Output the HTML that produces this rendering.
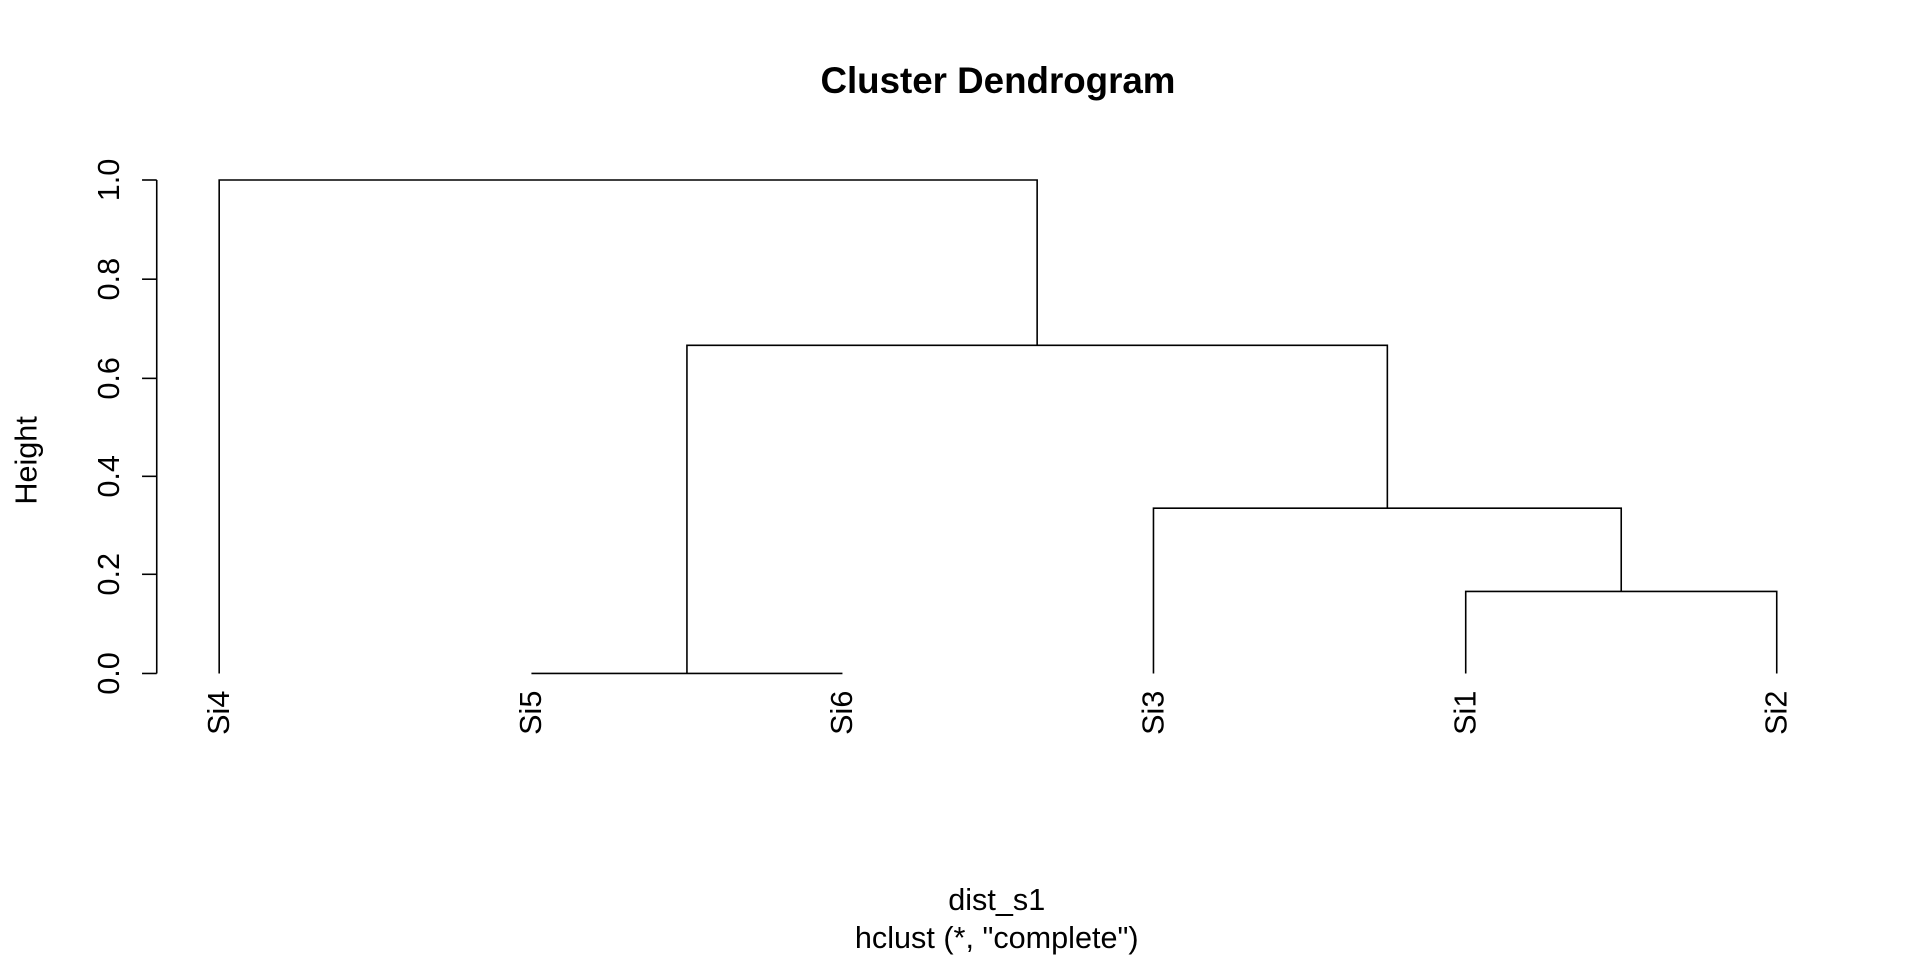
<!DOCTYPE html>
<html><head><meta charset="utf-8"><style>
html,body{margin:0;padding:0;background:#fff;}
svg{display:block;}
text{font-family:"Liberation Sans",Arial,sans-serif;fill:#000;}
</style></head><body>
<svg width="1920" height="960" viewBox="0 0 1568 784" xmlns="http://www.w3.org/2000/svg">
<rect width="1568" height="784" fill="#fff"/>
<text x="815" y="76" text-anchor="middle" font-size="30" font-weight="bold">Cluster Dendrogram</text>
<g stroke="#000" stroke-width="1.3" fill="none">
<line x1="128" y1="147" x2="128" y2="550"/>
<line x1="116" y1="147" x2="128" y2="147"/>
<line x1="116" y1="228" x2="128" y2="228"/>
<line x1="116" y1="309" x2="128" y2="309"/>
<line x1="116" y1="389" x2="128" y2="389"/>
<line x1="116" y1="469" x2="128" y2="469"/>
<line x1="116" y1="550" x2="128" y2="550"/>
<polyline points="179,550 179,147 847,147 847,282"/>
<polyline points="561,550 561,282 1133,282 1133,415"/>
<line x1="434" y1="550" x2="688" y2="550"/>
<polyline points="942,550 942,415 1324,415 1324,483"/>
<polyline points="1197,550 1197,483 1451,483 1451,550"/>
</g>
<g font-size="25" text-anchor="middle">
<text transform="translate(97,147) rotate(-90)">1.0</text>
<text transform="translate(97,228) rotate(-90)">0.8</text>
<text transform="translate(97,309) rotate(-90)">0.6</text>
<text transform="translate(97,389) rotate(-90)">0.4</text>
<text transform="translate(97,469) rotate(-90)">0.2</text>
<text transform="translate(97,550) rotate(-90)">0.0</text>
<text transform="translate(30,376) rotate(-90)">Height</text>
</g>
<g font-size="25" text-anchor="end">
<text transform="translate(187,564) rotate(-90)">Si4</text>
<text transform="translate(442,564) rotate(-90)">Si5</text>
<text transform="translate(696,564) rotate(-90)">Si6</text>
<text transform="translate(950,564) rotate(-90)">Si3</text>
<text transform="translate(1205,564) rotate(-90)">Si1</text>
<text transform="translate(1459,564) rotate(-90)">Si2</text>
</g>
<text x="814" y="743" text-anchor="middle" font-size="25">dist_s1</text>
<text x="814" y="774" text-anchor="middle" font-size="25">hclust (*, "complete")</text>
</svg>
</body></html>
